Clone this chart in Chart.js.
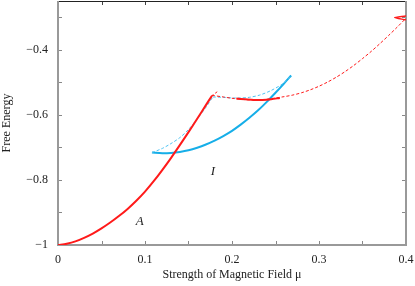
<!DOCTYPE html>
<html>
<head>
<meta charset="utf-8">
<script src="https://cdn.jsdelivr.net/npm/chart.js@4/dist/chart.umd.min.js"></script>
<style>
  html, body { margin: 0; padding: 0; background: #fff; }
  canvas { display: block; }
</style>
</head>
<body>
<canvas id="chart" width="415" height="286"></canvas>
<script>
// phase A (red, stable part)
const redSolidX = [0, 0.01, 0.02, 0.03, 0.04, 0.05, 0.06, 0.07, 0.08, 0.09, 0.1, 0.11, 0.12, 0.13, 0.14, 0.15, 0.16, 0.17, 0.177];
const redSolidY = [-1, -0.996, -0.989, -0.978, -0.965, -0.949, -0.931, -0.911, -0.889, -0.864, -0.836, -0.804, -0.769, -0.732, -0.693, -0.653, -0.612, -0.570, -0.541];

// red dashed branch (metastable)
const redHookX = [0.176, 0.183];
const redHookY = [-0.543, -0.529];
const redDashX = [0.177, 0.19, 0.2, 0.21, 0.22, 0.23, 0.24, 0.25, 0.26, 0.27, 0.28, 0.29, 0.3, 0.31, 0.32, 0.33, 0.34, 0.35, 0.36, 0.37, 0.38, 0.39, 0.4];
const redDashY = [-0.540, -0.545, -0.549, -0.552, -0.554, -0.554, -0.552, -0.548, -0.544, -0.539, -0.532, -0.523, -0.512, -0.499, -0.484, -0.467, -0.448, -0.427, -0.405, -0.381, -0.356, -0.330, -0.303];

// short solid red pieces
const redPlateauX = [0.205, 0.215, 0.225, 0.235, 0.245, 0.255];
const redPlateauY = [-0.550, -0.552, -0.554, -0.554, -0.552, -0.548];
const redEndX = [0.4, 0.387, 0.4];
const redEndY = [-0.296, -0.301, -0.308];

// phase I (blue)
const blueSolidX = [0.108, 0.12, 0.13, 0.14, 0.15, 0.16, 0.17, 0.18, 0.19, 0.2, 0.21, 0.22, 0.23, 0.24, 0.25, 0.26, 0.268];
const blueSolidY = [-0.716, -0.718, -0.717, -0.714, -0.709, -0.701, -0.691, -0.679, -0.665, -0.649, -0.630, -0.609, -0.586, -0.560, -0.532, -0.503, -0.479];

const blueDash1X = [0.108, 0.12, 0.13, 0.14, 0.15, 0.16, 0.17, 0.178];
const blueDash1Y = [-0.716, -0.703, -0.688, -0.670, -0.645, -0.612, -0.577, -0.545];
const blueDash2X = [0.178, 0.19, 0.2, 0.21, 0.22, 0.232, 0.245, 0.259, 0.268];
const blueDash2Y = [-0.545, -0.546, -0.548, -0.548, -0.546, -0.539, -0.525, -0.503, -0.479];

const phaseLabels = [
  { text: 'A', x: 0.094, y: -0.929 },
  { text: 'I', x: 0.178, y: -0.775 }
];

const RED = '#ff1a1a';
const BLUE = '#16aee8';
const LIGHT_BLUE = '#4cc3f2';
const SERIF = '"Liberation Serif", "DejaVu Serif", serif';

function toPoints(xs, ys) {
  return xs.map((x, i) => ({ x: x, y: ys[i] }));
}

function line(xs, ys, color, width, dash) {
  return {
    data: toPoints(xs, ys),
    borderColor: color,
    borderWidth: width,
    borderDash: dash || [],
    pointRadius: 0,
    fill: false,
    tension: 0.3
  };
}

// frame and inward tick marks, drawn under the curves
const framePlugin = {
  id: 'frame',
  beforeDatasetsDraw(chart) {
    const { ctx, chartArea: a, scales: { x, y } } = chart;
    ctx.save();
    ctx.lineWidth = 1;
    x.ticks.forEach(t => {
      const px = Math.round(x.getPixelForValue(t.value)) + 0.5;
      ctx.strokeStyle = '#888';
      ctx.beginPath(); ctx.moveTo(px, a.bottom); ctx.lineTo(px, a.bottom - 4); ctx.stroke();
      ctx.strokeStyle = '#444';
      ctx.beginPath(); ctx.moveTo(px, a.top); ctx.lineTo(px, a.top + 4); ctx.stroke();
    });
    y.ticks.forEach(t => {
      const py = Math.round(y.getPixelForValue(t.value)) + 0.5;
      ctx.strokeStyle = '#888';
      ctx.beginPath(); ctx.moveTo(a.left, py); ctx.lineTo(a.left + 4, py); ctx.stroke();
      ctx.beginPath(); ctx.moveTo(a.right, py); ctx.lineTo(a.right - 4, py); ctx.stroke();
    });
    ctx.strokeStyle = '#222';
    ctx.beginPath(); ctx.moveTo(a.left, a.top + 0.5); ctx.lineTo(a.right, a.top + 0.5); ctx.stroke();
    ctx.strokeStyle = '#999';
    ctx.lineWidth = 2;
    ctx.beginPath();
    ctx.moveTo(a.left, a.top);
    ctx.lineTo(a.left, a.bottom);
    ctx.lineTo(a.right, a.bottom);
    ctx.lineTo(a.right, a.top);
    ctx.stroke();
    ctx.restore();
  },
  afterDraw(chart) {
    const { ctx, scales: { x, y } } = chart;
    ctx.save();
    ctx.fillStyle = '#222';
    ctx.font = 'italic 13px ' + SERIF;
    ctx.textAlign = 'center';
    ctx.textBaseline = 'middle';
    phaseLabels.forEach(l => {
      ctx.fillText(l.text, x.getPixelForValue(l.x), y.getPixelForValue(l.y));
    });
    ctx.restore();
  }
};

new Chart(document.getElementById('chart').getContext('2d'), {
  type: 'line',
  data: {
    datasets: [
      line(redDashX, redDashY, RED, 1, [3, 2]),
      line(redHookX, redHookY, RED, 1, [3, 2]),
      line(redSolidX, redSolidY, RED, 2),
      line(redPlateauX, redPlateauY, RED, 2),
      line(redEndX, redEndY, RED, 1.5),
      line(blueDash1X, blueDash1Y, LIGHT_BLUE, 1, [3, 2]),
      line(blueDash2X, blueDash2Y, LIGHT_BLUE, 1, [3, 2]),
      line(blueSolidX, blueSolidY, BLUE, 2)
    ]
  },
  plugins: [framePlugin],
  options: {
    responsive: false,
    animation: false,
    layout: { padding: { top: 1, right: 9, left: 0, bottom: 0 } },
    plugins: {
      legend: { display: false },
      tooltip: { enabled: false }
    },
    scales: {
      x: {
        type: 'linear',
        min: 0,
        max: 0.4,
        grid: { display: false, drawTicks: false },
        border: { display: false },
        afterFit: s => { s.height = 41; s.paddingLeft = 0; s.paddingRight = 0; },
        ticks: {
          stepSize: 0.05,
          includeBounds: false,
          autoSkip: false,
          maxRotation: 0,
          padding: 8,
          color: '#222',
          font: { family: SERIF, size: 12 },
          callback: v => Math.round(v * 20) % 2 === 0 ? (v === 0 ? '0' : String(Math.round(v * 10) / 10)) : ''
        },
        title: {
          display: true,
          text: 'Strength of Magnetic Field μ',
          color: '#222',
          font: { family: SERIF, size: 12 },
          padding: { top: 0, bottom: 4 }
        }
      },
      y: {
        type: 'linear',
        min: -1,
        max: -0.25,
        grid: { display: false, drawTicks: false },
        border: { display: false },
        afterFit: s => { s.width = 58; s.paddingTop = 0; s.paddingBottom = 0; },
        ticks: {
          stepSize: 0.1,
          includeBounds: false,
          autoSkip: false,
          padding: 10,
          color: '#222',
          font: { family: SERIF, size: 12 },
          callback: v => Math.round(v * 10) % 2 === 0 ? '\u2212' + String(Math.abs(Math.round(v * 10) / 10)) : ''
        },
        title: {
          display: true,
          text: 'Free Energy',
          color: '#222',
          font: { family: SERIF, size: 12 },
          padding: { top: 0, bottom: 0 }
        }
      }
    }
  }
});
</script>
</body>
</html>
